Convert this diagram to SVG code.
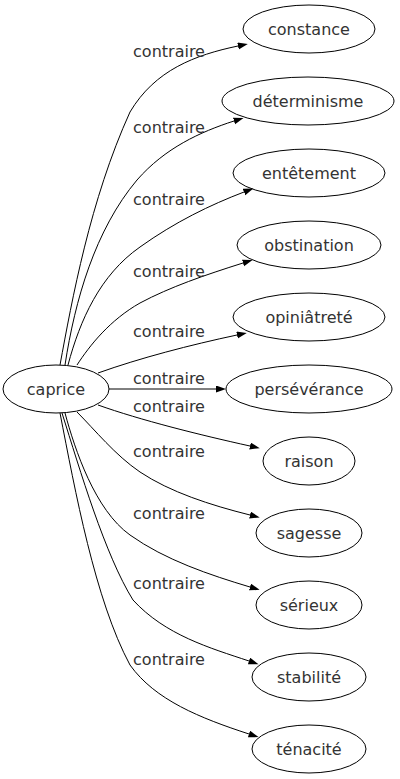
<svg xmlns="http://www.w3.org/2000/svg" width="400" height="779" viewBox="0 0 400 779">
<style>
.n ellipse{fill:none;stroke:#000;stroke-width:1}
text{font-family:"DejaVu Sans",sans-serif;font-size:16px;fill:#333;text-anchor:middle}
.e path{fill:none;stroke:#000;stroke-width:1;marker-end:url(#ah)}
</style>
<defs>
<marker id="ah" markerUnits="userSpaceOnUse" markerWidth="11" markerHeight="8" refX="0" refY="3.5" orient="auto">
<path d="M0,0 L10,3.5 L0,7 z" fill="#000"/>
</marker>
</defs>
<rect width="400" height="779" fill="#fff"/>
<g id="edges" class="e">
<path d="M60,365 C72,300 90,200 130,112 C155,70 195,55 238,46"/>
<path d="M65,365 C75,300 95,230 137,180 C165,148 200,132 234,121"/>
<path d="M68,365 C80,320 100,275 140,247 C175,222 210,205 244,192"/>
<path d="M77,365 C90,345 110,320 140,303 C170,287 205,275 243,263"/>
<path d="M98,373 C140,358 190,345 237,335"/>
<path d="M109,389 L216,389"/>
<path d="M98,405 C140,420 200,435 250,446"/>
<path d="M77,412 C95,430 115,455 140,472 C170,492 210,505 250,515"/>
<path d="M65,413 C75,450 95,510 130,535 C165,560 210,575 250,587"/>
<path d="M62,413 C80,470 105,555 133,600 C165,635 210,648 249,661"/>
<path d="M60,413 C75,490 95,600 130,665 C155,700 200,718 249,734"/>
<text x="169" y="57">contraire</text>
<text x="169" y="133">contraire</text>
<text x="169" y="205">contraire</text>
<text x="169" y="277">contraire</text>
<text x="169" y="337">contraire</text>
<text x="169" y="384">contraire</text>
<text x="169" y="412">contraire</text>
<text x="169" y="457">contraire</text>
<text x="169" y="519">contraire</text>
<text x="169" y="589">contraire</text>
<text x="169" y="665">contraire</text>
</g>
<g id="caprice" class="n"><ellipse cx="56" cy="389" rx="53" ry="24"/><text x="56" y="395">caprice</text></g>
<g id="constance" class="n"><ellipse cx="309" cy="29" rx="66" ry="24"/><text x="309" y="35">constance</text></g>
<g id="determinisme" class="n"><ellipse cx="308" cy="101" rx="86" ry="24"/><text x="308" y="107">déterminisme</text></g>
<g id="entetement" class="n"><ellipse cx="309" cy="173" rx="76" ry="24"/><text x="309" y="179">entêtement</text></g>
<g id="obstination" class="n"><ellipse cx="309" cy="245" rx="72" ry="24"/><text x="309" y="251">obstination</text></g>
<g id="opiniatrete" class="n"><ellipse cx="309" cy="317" rx="76" ry="24"/><text x="309" y="323">opiniâtreté</text></g>
<g id="perseverance" class="n"><ellipse cx="309" cy="389" rx="83" ry="24"/><text x="309" y="395">persévérance</text></g>
<g id="raison" class="n"><ellipse cx="309" cy="461" rx="46" ry="24"/><text x="309" y="467">raison</text></g>
<g id="sagesse" class="n"><ellipse cx="309" cy="533" rx="53" ry="24"/><text x="309" y="539">sagesse</text></g>
<g id="serieux" class="n"><ellipse cx="309" cy="605" rx="53" ry="24"/><text x="309" y="611">sérieux</text></g>
<g id="stabilite" class="n"><ellipse cx="309" cy="677" rx="57" ry="24"/><text x="309" y="683">stabilité</text></g>
<g id="tenacite" class="n"><ellipse cx="309" cy="749" rx="57" ry="24"/><text x="309" y="755">ténacité</text></g>
</svg>
